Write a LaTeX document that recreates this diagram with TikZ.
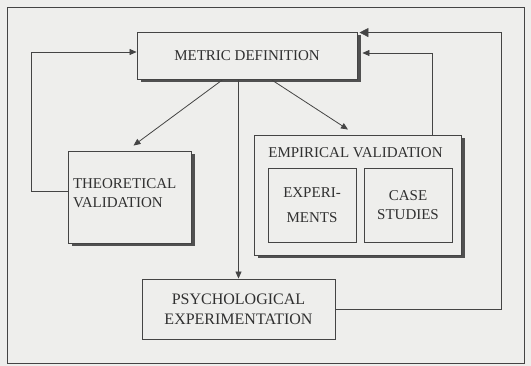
\documentclass[tikz,border=0pt]{standalone}
\usepackage{fontspec}
\setmainfont{Liberation Serif}
\usetikzlibrary{arrows.meta,positioning,shadows}
\definecolor{scan}{HTML}{EEEEEC}
\definecolor{ink}{HTML}{444444}
\definecolor{shade}{HTML}{505050}
\definecolor{type}{HTML}{303030}

\begin{document}
\begin{tikzpicture}[
    x=1pt,y=-1pt,
    box/.style={draw=ink,fill=scan,line width=0.9pt,align=center,inner sep=0pt,font=\fontsize{15}{19}\selectfont,text=type},
    shade/.style={drop shadow={shadow xshift=4pt,shadow yshift=-3.5pt,fill=shade,opacity=1}},
    flow/.style={-{Triangle[length=7pt,width=6pt]},draw=ink,line width=0.8pt},
    back/.style={flow,line width=0.6pt},
    lbl/.style={font=\fontsize{15}{19}\selectfont,text=type,inner sep=0pt}
]
\fill[scan] (0,0) rectangle (531,366);
\useasboundingbox (0,0) rectangle (531,366);
\draw[ink,line width=1pt] (7,8) rectangle (524,364);

\node[box,shade,minimum width=220,minimum height=47] (metric) at (247,55.5) {METRIC DEFINITION};
\node[box,shade,minimum width=123,minimum height=92,text width=113,align=left,text depth=27pt] (theo) at (129.5,197) {THEORETICAL\\VALIDATION};
\node[box,shade,minimum width=207,minimum height=120] (emp) at (357.5,195) {};
\node[lbl] (emptitle) at ([xshift=-2pt,yshift=-18pt]emp.north) {EMPIRICAL VALIDATION};
\node[box,minimum width=88,minimum height=74] (exper) at (312,205) {EXPERI-\\[6pt]MENTS};
\node[box,minimum width=88,minimum height=74] (cases) at (408,205) {CASE\\STUDIES};
\node[box,minimum width=193,minimum height=60,font=\fontsize{16}{20}\selectfont] (psych) at (238.5,309) {PSYCHOLOGICAL\\EXPERIMENTATION};

% forward arrows
\draw[flow] ([xshift=-24pt]metric.south) -- ([xshift=4pt,yshift=5pt]theo.north);
\draw[flow] (metric.south -| psych.north) -- (psych.north);
\draw[flow] ([xshift=24pt]metric.south) -- ([xshift=-9.5pt,yshift=5pt]emp.north);

% feedback loops
\draw[back] ([yshift=6pt]theo.west) -- ++(-36,0) |- ([yshift=3.5pt]metric.west);
\draw[back] ([xshift=74.5pt]emp.north) |- ([xshift=5pt,yshift=2.5pt]metric.east);
\draw[back,-{Triangle[length=9pt,width=9pt]}] (psych.east) -- ++(166,0) |- ([xshift=2pt,yshift=-1pt]metric.north east);

\end{tikzpicture}
\end{document}
